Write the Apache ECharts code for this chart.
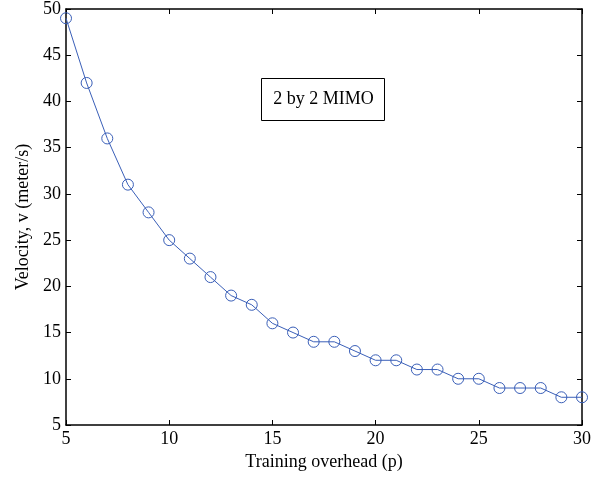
<!DOCTYPE html>
<html>
<head>
<meta charset="utf-8">
<script src="https://cdn.jsdelivr.net/npm/echarts@6/dist/echarts.min.js"></script>
<style>
  html, body { margin: 0; padding: 0; background: #fff; }
  #chart { width: 605px; height: 479px; }
</style>
</head>
<body>
<div id="chart"></div>
<script>
// training overhead p vs max velocity
const overhead = [5, 6, 7, 8, 9, 10, 11, 12, 13, 14, 15, 16, 17, 18, 19, 20, 21, 22, 23, 24, 25, 26, 27, 28, 29, 30];
const velocity = [49, 42, 36, 31, 28, 25, 23, 21, 19, 18, 16, 15, 14, 14, 13, 12, 12, 11, 11, 10, 10, 9, 9, 9, 8, 8];
const xTicks = [5, 10, 15, 20, 25, 30];
const yTicks = [5, 10, 15, 20, 25, 30, 35, 40, 45, 50];

var myChart = echarts.init(document.getElementById('chart'));
var font = 'Liberation Serif';

var tickAxis = function (show) {
  return {
    axisLine: { show: true, onZero: false, lineStyle: { color: '#000', width: 1.5 } },
    axisTick: { show: true, inside: true, length: 5, lineStyle: { color: '#000' } },
    axisLabel: { show: show, color: '#000', fontFamily: font, fontSize: 18, margin: 5 },
    splitLine: { show: false }
  };
};

option = {
  backgroundColor: '#fff',
  animation: false,
  grid: { left: 66, right: 23, top: 8, bottom: 54 },
  xAxis: [
    Object.assign({
      type: 'value', min: xTicks[0], max: xTicks[xTicks.length - 1], interval: 5,
      position: 'bottom',
      name: 'Training overhead (p)', nameLocation: 'middle', nameGap: 28,
      nameTextStyle: { color: '#000', fontFamily: font, fontSize: 18 }
    }, tickAxis(true)),
    Object.assign({
      type: 'value', min: xTicks[0], max: xTicks[xTicks.length - 1], interval: 5,
      position: 'top'
    }, tickAxis(false))
  ],
  yAxis: [
    Object.assign({
      type: 'value', min: yTicks[0], max: yTicks[yTicks.length - 1], interval: 5,
      position: 'left',
      name: 'Velocity, v (meter/s)', nameLocation: 'middle', nameGap: 33,
      nameTextStyle: { color: '#000', fontFamily: font, fontSize: 18 }
    }, tickAxis(true)),
    Object.assign({
      type: 'value', min: yTicks[0], max: yTicks[yTicks.length - 1], interval: 5,
      position: 'right'
    }, tickAxis(false))
  ],
  series: [
    {
      type: 'line',
      data: overhead.map(function (p, i) { return [p, velocity[i]]; }),
      symbol: 'circle',
      symbolSize: 11,
      showAllSymbol: true,
      lineStyle: { color: '#3a5fb8', width: 1 },
      itemStyle: { color: 'rgba(0,0,0,0)', borderColor: '#3a5fb8', borderWidth: 1 },
      clip: false
    }
  ],
  graphic: [
    {
      type: 'group',
      left: 261, top: 78,
      children: [
        { type: 'rect', shape: { x: 0, y: 0, width: 123, height: 42 },
          style: { fill: '#fff', stroke: '#000', lineWidth: 1 } },
        { type: 'text', x: 62, y: 21,
          style: { text: '2 by 2 MIMO', fill: '#000', font: '18px "Liberation Serif"',
                   textAlign: 'center', textVerticalAlign: 'middle' } }
      ]
    }
  ]
};
myChart.setOption(option);
</script>
</body>
</html>
